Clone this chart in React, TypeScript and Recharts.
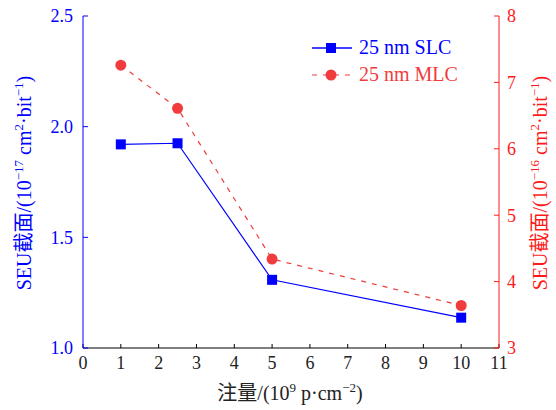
import { Line, LineChart, XAxis, YAxis } from "recharts"

const doses = [1, 2.5, 5, 10]
const slcValues = [1.92, 1.925, 1.308, 1.137]
const mlcValues = [7.26, 6.61, 4.34, 3.64]
const xTicks = [0, 1, 2, 3, 4, 5, 6, 7, 8, 9, 10, 11]
const leftTicks = [1.0, 1.5, 2.0, 2.5]
const rightTicks = [3, 4, 5, 6, 7, 8]

const BLUE = "#0000ff"
const RED = "#f03c3c"
const AXIS_RED = "#ff1a1a"
const FONT = "'Liberation Serif', 'Noto Sans CJK SC', serif"

const chartData = doses.map((d, i) => ({ dose: d, slc: slcValues[i], mlc: mlcValues[i] }))

function LegendBox() {
  return (
    <div style={{ position: "absolute", left: 312, top: 34, fontFamily: FONT, fontSize: 20 }}>
      <div style={{ display: "flex", alignItems: "center", height: 27, color: BLUE }}>
        <svg width={40} height={14}>
          <line x1={0} y1={7} x2={40} y2={7} stroke={BLUE} strokeWidth={1.5} />
          <rect x={14} y={2} width={10} height={10} fill={BLUE} />
        </svg>
        <span style={{ marginLeft: 7 }}>25 nm SLC</span>
      </div>
      <div style={{ display: "flex", alignItems: "center", height: 27, color: RED }}>
        <svg width={40} height={14}>
          <line x1={0} y1={7} x2={40} y2={7} stroke={RED} strokeWidth={1.2} strokeDasharray="5 6" />
          <circle cx={19} cy={7} r={5.5} fill={RED} />
        </svg>
        <span style={{ marginLeft: 7 }}>25 nm MLC</span>
      </div>
    </div>
  )
}

function AxisTitle({ x, y, rotate, color, exp }: { x: number; y: number; rotate: boolean; color: string; exp: string }) {
  return (
    <text
      transform={rotate ? `translate(${x},${y}) rotate(-90)` : `translate(${x},${y})`}
      textAnchor="middle"
      fill={color}
      fontSize={20}
      fontFamily={FONT}
    >
      SEU截面/(10<tspan dy={-8} fontSize={13}>{exp}</tspan>
      <tspan dy={8}> cm</tspan>
      <tspan dy={-8} fontSize={13}>2</tspan>
      <tspan dy={8}>·bit</tspan>
      <tspan dy={-8} fontSize={13}>−1</tspan>
      <tspan dy={8}>)</tspan>
    </text>
  )
}

export default function App() {
  return (
    <div style={{ position: "absolute", left: 0, top: 0, width: 556, height: 410, background: "#fff" }}>
      <LineChart
        width={556}
        height={410}
        data={chartData}
        margin={{ top: 16, right: 0, bottom: 0, left: 0 }}
        style={{ fontFamily: FONT }}
      >
        <XAxis
          dataKey="dose"
          type="number"
          domain={[0, 11]}
          ticks={xTicks}
          height={62}
          stroke="#000"
          tickSize={-4}
          tickMargin={12}
          tick={{ fill: "#222", fontSize: 18 }}
          label={{
            content: () => (
              <text x={290} y={400} textAnchor="middle" fill="#222" fontSize={20} fontFamily={FONT}>
                注量/(10<tspan dy={-8} fontSize={13}>9</tspan>
                <tspan dy={8}> p·cm</tspan>
                <tspan dy={-8} fontSize={13}>−2</tspan>
                <tspan dy={8}>)</tspan>
              </text>
            ),
          }}
        />
        <XAxis xAxisId="top" orientation="top" type="number" domain={[0, 11]} height={0} stroke="#000" tick={false} tickLine={false} />
        <YAxis
          yAxisId="left"
          domain={[1, 2.5]}
          ticks={leftTicks}
          width={83}
          stroke={BLUE}
          tickSize={-5}
          tickMargin={15}
          tickFormatter={(v) => v.toFixed(1)}
          tick={{ fill: BLUE, fontSize: 18 }}
          label={{ content: () => <AxisTitle x={31} y={183} rotate color={BLUE} exp="−17" /> }}
        />
        <YAxis
          yAxisId="right"
          orientation="right"
          domain={[3, 8]}
          ticks={rightTicks}
          width={57}
          stroke={AXIS_RED}
          tickSize={-5}
          tickMargin={13}
          tick={{ fill: AXIS_RED, fontSize: 18 }}
          label={{ content: () => <AxisTitle x={547} y={183} rotate color={AXIS_RED} exp="−16" /> }}
        />
        <Line
          yAxisId="left"
          dataKey="slc"
          stroke={BLUE}
          strokeWidth={1.2}
          isAnimationActive={false}
          dot={(p: any) => <rect key={p.index} x={p.cx - 5} y={p.cy - 5} width={10} height={10} fill={BLUE} />}
        />
        <Line
          yAxisId="right"
          dataKey="mlc"
          stroke={RED}
          strokeWidth={1.2}
          strokeDasharray="5 6"
          isAnimationActive={false}
          dot={(p: any) => <circle key={p.index} cx={p.cx} cy={p.cy} r={5.5} fill={RED} />}
        />
      </LineChart>
      <LegendBox />
    </div>
  )
}
